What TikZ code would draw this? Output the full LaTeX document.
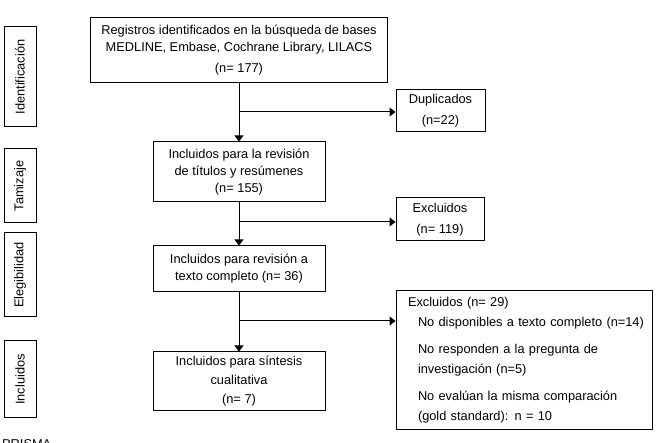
\documentclass[tikz,border=0pt]{standalone}
\usepackage{fontspec}
\setmainfont{Liberation Sans}
\usetikzlibrary{arrows.meta}
\tikzset{>={Triangle[width=9pt,length=6pt]}}
\tikzset{
  box/.style={draw,line width=1pt,align=center,inner sep=0pt,font=\fontsize{12.8}{17}\selectfont},
  side/.style={draw,line width=1pt,rotate=90,inner sep=0pt,minimum height=32pt,font=\fontsize{12.8}{17}\selectfont}
}

\begin{document}
\begin{tikzpicture}[x=1pt,y=-1pt]
  \useasboundingbox (0,0) rectangle (657,443);

  % Phases
  \node[side,minimum width=100pt] (ident) at (20,77) {Identificación};
  \node[side,minimum width=74pt] (tam) at (20,186) {Tamizaje};
  \node[side,minimum width=84pt] (ele) at (20,275) {Elegibilidad};
  \node[side,minimum width=77pt] (inc) at (20,379.5) {Incluidos};

  % Main column
  \node[box,minimum width=297pt,minimum height=65pt] (reg) at (239,50.5)
    {Registros identificados en la búsqueda de bases\\MEDLINE, Embase, Cochrane Library, LILACS\\[4pt](n= 177)};
  \node[box,minimum width=172pt,minimum height=60pt] (tit) at (239,172)
    {Incluidos para la revisión\\de títulos y resúmenes\\(n= 155)};
  \node[box,minimum width=172pt,minimum height=46pt] (com) at (239,269)
    {Incluidos para revisión a\\texto completo (n= 36)};
  \node[box,minimum width=172pt,minimum height=59pt] (sin) at (239,381.5)
    {Incluidos para síntesis\\[2pt]cualitativa\\[2pt](n= 7)};

  % Excluded records
  \node[box,minimum width=89pt,minimum height=42pt] (dup) at (440.5,111) {Duplicados\\[4pt](n=22)};
  \node[box,minimum width=88pt,minimum height=43pt] (exc) at (440,219.5) {Excluidos\\[4pt](n= 119)};
  \node[box,align=left,text width=240pt,inner xsep=8pt,minimum height=139pt,
        font=\fontsize{12.8}{20}\selectfont] (full) at (524,360.5)
    {\hspace*{4pt}Excluidos (n= 29)\\
     \hspace*{14pt}No disponibles a texto completo (n=14)\\[7pt]
     \hspace*{14pt}No responden a la pregunta de\\
     \hspace*{14pt}investigación (n=5)\\[7pt]
     \hspace*{14pt}No evalúan la misma comparación\\
     \hspace*{14pt}(gold standard): n = 10};

  \node[anchor=north west,inner sep=0pt,font=\fontsize{12.8}{17}\selectfont] (prisma) at (2,439) {PRISMA};

  % Flow
  \coordinate (b1) at (239,112);
  \coordinate (b2) at (239,222);
  \coordinate (b3) at (239,321);
  \draw[line width=1pt,->] (reg) -- (tit);
  \draw[line width=1pt,->] (tit) -- (com);
  \draw[line width=1pt,->] (com) -- (sin);
  \draw[line width=1pt,->] (b1) -- (b1 -| dup.west);
  \draw[line width=1pt,->] (b2) -- (b2 -| exc.west);
  \draw[line width=1pt,->] (b3) -- (b3 -| full.west);
\end{tikzpicture}
\end{document}
